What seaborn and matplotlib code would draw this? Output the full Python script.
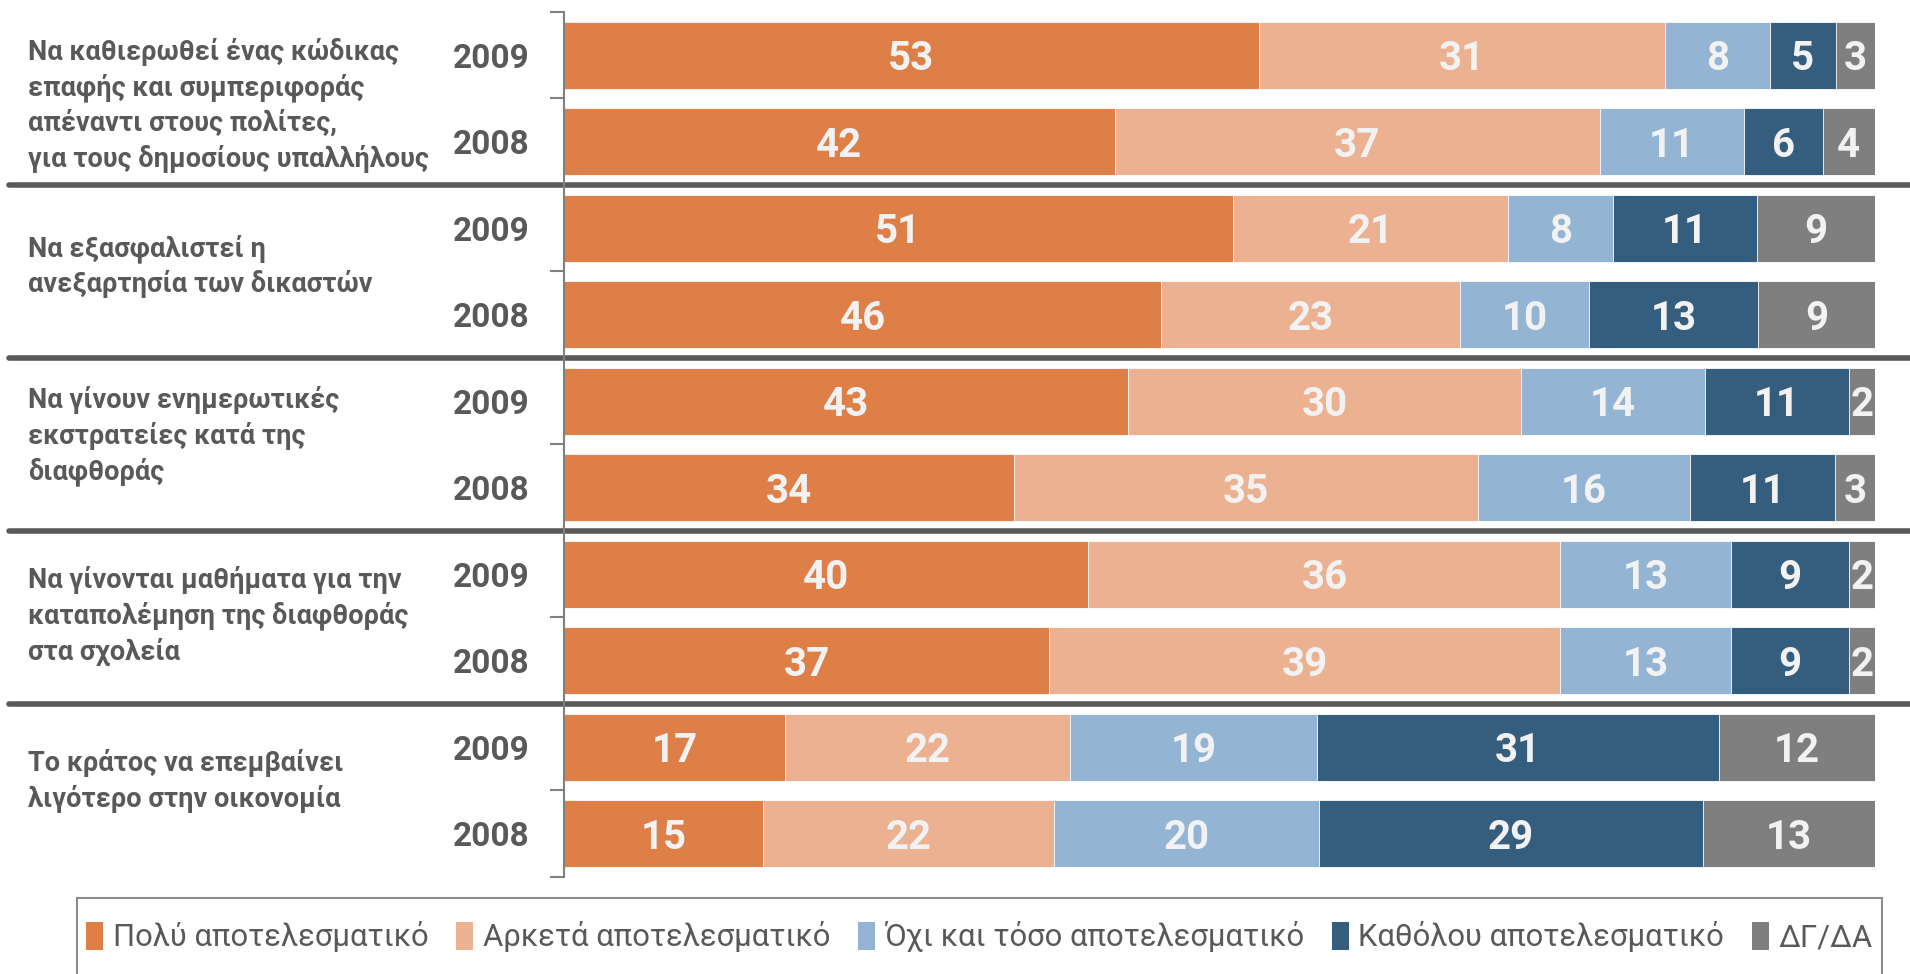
import numpy as np
import pandas as pd
import matplotlib
matplotlib.use('Agg')
import matplotlib.pyplot as plt
import matplotlib.transforms as mtransforms
from matplotlib.patches import Patch, Rectangle
import seaborn as sns

# Δεδομένα (ποσοστά, ανά ερώτηση: 2009, 2008)
themata = ['Να καθιερωθεί ένας κώδικας\nεπαφής και συμπεριφοράς\nαπέναντι στους πολίτες,\nγια τους δημοσίους υπαλλήλους',
           'Να εξασφαλιστεί η\nανεξαρτησία των δικαστών',
           'Να γίνουν ενημερωτικές\nεκστρατείες κατά της\nδιαφθοράς',
           'Να γίνονται μαθήματα για την\nκαταπολέμηση της διαφθοράς\nστα σχολεία',
           'Το κράτος να επεμβαίνει\nλιγότερο στην οικονομία']
etos = ['2009', '2008']
katigories = ['Πολύ αποτελεσματικό', 'Αρκετά αποτελεσματικό',
              'Όχι και τόσο αποτελεσματικό', 'Καθόλου αποτελεσματικό', 'ΔΓ/ΔΑ']
poly = [53, 42, 51, 46, 43, 34, 40, 37, 17, 15]
arketa = [31, 37, 21, 23, 30, 35, 36, 39, 22, 22]
oxi_toso = [8, 11, 8, 10, 14, 16, 13, 13, 19, 20]
katholou = [5, 6, 11, 13, 11, 11, 9, 9, 31, 29]
dg_da = [3, 4, 9, 9, 2, 3, 2, 2, 12, 13]

xromata = ['#DD7F47', '#EBB191', '#93B4D3', '#355D7E', '#7F7F7F']
gkri = '#595959'
# μετατόπιση κειμένου θεμάτων από το κέντρο κάθε ομάδας
metatopisi = [0.08, -0.06, -0.10, -0.02, -0.11]

sns.set_style('white')
plt.rcParams['font.family'] = ['Roboto', 'DejaVu Sans']

# Πίνακας με κανονικοποίηση στο 100%
grammes = [f'{i}-{e}' for i in range(len(themata)) for e in etos]
df = pd.DataFrame({'grammi': grammes, 'c0': poly, 'c1': arketa, 'c2': oxi_toso,
                   'c3': katholou, 'c4': dg_da})
cols = ['c0', 'c1', 'c2', 'c3', 'c4']
synolo = df[cols].sum(axis=1)
pososta = df[cols].div(synolo, axis=0) * 100
athroisma = pososta.cumsum(axis=1)
for k, c in enumerate(cols):
    df['cum' + str(k)] = athroisma[c]

fig = plt.figure(figsize=(19.1, 9.74), dpi=100)
ax = fig.add_axes([564 / 1910, 1 - 877 / 974, 1311 / 1910, 865 / 974])

# Στοιβαγμένες μπάρες: από το άθροισμα προς τα πίσω
for k in reversed(range(5)):
    sns.barplot(data=df, x='cum' + str(k), y='grammi', order=grammes, orient='h',
                color=xromata[k], saturation=1, width=0.78, errorbar=None,
                edgecolor='white', linewidth=0.6, ax=ax)

# Ετικέτες τιμών
for i in range(len(grammes)):
    aristera = 0
    for k, c in enumerate(cols):
        platos = pososta.loc[i, c]
        ax.text(aristera + platos / 2, i, str(df.loc[i, c]), ha='center', va='center_baseline',
                color='#F2F2F2', fontsize=29, fontweight='bold')
        aristera += platos

ax.set_xlim(0, 100)
ax.set_ylim(len(grammes) - 0.5, -0.5)
ax.set_xlabel('')
ax.set_ylabel('')
ax.set_xticks([])
for s in ['top', 'right', 'bottom']:
    ax.spines[s].set_visible(False)
ax.spines['left'].set_color('#808080')
ax.spines['left'].set_linewidth(1.5)

ax.set_yticks(np.arange(-0.5, len(grammes), 1), labels=[''] * (len(grammes) + 1))
ax.set_yticks(np.arange(len(grammes)), labels=etos * len(themata), minor=True)
ax.tick_params(axis='y', which='major', length=10, width=1.5, color='#808080', left=True)
ax.tick_params(axis='y', which='minor', length=0, pad=25, labelsize=24, labelcolor=gkri, left=True)
for t in ax.get_yticklabels(minor=True):
    t.set_fontweight('bold')
    t.set_verticalalignment('center_baseline')

# Διαχωριστικές γραμμές
for b in [1.5, 3.5, 5.5, 7.5]:
    ax.axhline(b, xmin=-0.423, xmax=1.03, color=gkri, lw=4, clip_on=False)

# Θέματα
trans = mtransforms.blended_transform_factory(ax.transAxes, ax.transData)
for g, th in enumerate(themata):
    ax.text(-0.409, 2 * g + 0.5 + metatopisi[g], th, transform=trans, ha='left', va='center',
            fontsize=19.5, fontweight='bold', color=gkri, linespacing=1.35)

# Υπόμνημα
fig.add_artist(Rectangle((77 / 1910, -0.05), 1805 / 1910, 76 / 974 + 0.05,
                         transform=fig.transFigure, fill=False, edgecolor='#8C8C8C', lw=1.5))
handles = [Patch(facecolor=c, edgecolor='none') for c in xromata]
fig.legend(handles, katigories, loc='center', bbox_to_anchor=((77 + 1882) / 2 / 1910, 1 - 937 / 974),
           ncol=5, frameon=False, fontsize=22.3, labelcolor=gkri, handlelength=0.55,
           handleheight=1.0, handletextpad=0.3, columnspacing=0.9)

fig.savefig('out.png', dpi=100)
